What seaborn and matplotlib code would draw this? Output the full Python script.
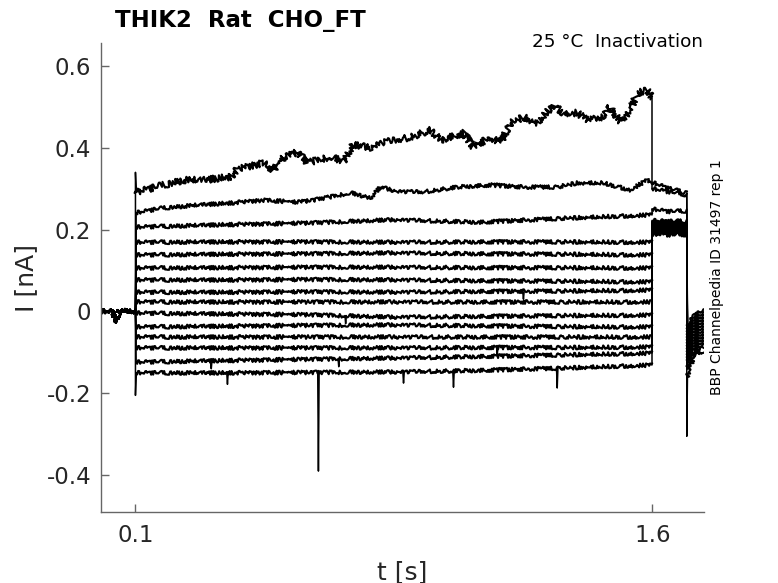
import numpy as np
import pandas as pd
import matplotlib
matplotlib.use("Agg")
import matplotlib.pyplot as plt
import seaborn as sns

# holding segment before the step (shared by all sweeps)
t_hold = [0.0, 0.035, 0.040, 0.043, 0.047, 0.052, 0.1]
i_hold = [0.0, 0.0, -0.020, -0.027, -0.025, 0.003, 0.0]

# sweep 1 (largest, slowly rising)
t_top = [0.102, 0.106, 0.181, 0.239, 0.297, 0.376, 0.396, 0.471, 0.500, 0.529, 0.570,
         0.599, 0.628, 0.666, 0.703, 0.732, 0.782, 0.820, 0.860, 0.898, 0.956,
         0.985, 1.052, 1.081, 1.130, 1.159, 1.188, 1.226, 1.266, 1.313, 1.342,
         1.382, 1.411, 1.458, 1.478, 1.507, 1.536, 1.556, 1.585, 1.600]
i_top = [0.296, 0.292, 0.309, 0.321, 0.321, 0.329, 0.348, 0.363, 0.346, 0.375, 0.390,
         0.363, 0.370, 0.378, 0.366, 0.407, 0.400, 0.414, 0.419, 0.426, 0.443,
         0.419, 0.436, 0.402, 0.426, 0.412, 0.460, 0.475, 0.460, 0.505, 0.485,
         0.485, 0.468, 0.475, 0.500, 0.463, 0.492, 0.534, 0.541, 0.521]

# sweep 2
t_second = [0.102, 0.181, 0.280, 0.376, 0.471, 0.570, 0.616, 0.666, 0.724, 0.782,
            0.811, 0.860, 0.936, 1.034, 1.130, 1.226, 1.324, 1.382, 1.458, 1.536,
            1.585, 1.600]
i_second = [0.241, 0.253, 0.260, 0.265, 0.272, 0.267, 0.272, 0.280, 0.290, 0.277,
            0.304, 0.293, 0.292, 0.304, 0.309, 0.304, 0.304, 0.314, 0.314, 0.297,
            0.321, 0.314]

# sweeps 3-15, nearly flat during the step
t_flat = [0.102, 0.35, 0.6, 0.85, 1.1, 1.35, 1.6]
flat_levels = [
    [0.206, 0.212, 0.216, 0.224, 0.218, 0.228, 0.236],
    [0.169, 0.170, 0.170, 0.169, 0.170, 0.170, 0.169],
    [0.138, 0.140, 0.141, 0.143, 0.141, 0.140, 0.138],
    [0.106, 0.107, 0.108, 0.108, 0.107, 0.107, 0.106],
    [0.077, 0.077, 0.078, 0.077, 0.075, 0.074, 0.072],
    [0.047, 0.047, 0.048, 0.047, 0.049, 0.050, 0.052],
    [0.023, 0.023, 0.023, 0.023, 0.023, 0.023, 0.023],
    [-0.004, -0.006, -0.008, -0.014, -0.012, -0.010, -0.009],
    [-0.038, -0.036, -0.034, -0.033, -0.035, -0.037, -0.038],
    [-0.063, -0.063, -0.063, -0.063, -0.063, -0.063, -0.063],
    [-0.089, -0.089, -0.089, -0.089, -0.088, -0.088, -0.087],
    [-0.124, -0.120, -0.117, -0.114, -0.110, -0.106, -0.102],
    [-0.150, -0.150, -0.149, -0.148, -0.144, -0.138, -0.131],
]

# short downward events: (sweep, t, level around, peak)
events = [
    (15, 0.631, -0.149, -0.390),
    (15, 0.367, -0.150, -0.178),
    (15, 0.878, -0.148, -0.175),
    (15, 1.023, -0.146, -0.185),
    (15, 1.324, -0.139, -0.187),
    (14, 0.320, -0.121, -0.140),
    (14, 0.690, -0.115, -0.135),
    (13, 1.150, -0.088, -0.105),
    (10, 0.710, -0.010, -0.030),
    (8, 1.226, 0.048, 0.030),
]

# capacitive peaks at the step edges
onset_peak = {1: 0.340, 15: -0.205}
offset_peak = {15: -0.305}

# second segment 1.6 - 1.7 s
t_tail = [1.6, 1.65, 1.70]
tail_levels = [
    [0.315, 0.300, 0.290],
    [0.300, 0.292, 0.285],
    [0.250, 0.244, 0.246],
    [0.222, 0.220, 0.221],
    [0.219, 0.217, 0.218],
    [0.216, 0.214, 0.215],
    [0.213, 0.211, 0.212],
    [0.210, 0.208, 0.209],
    [0.207, 0.205, 0.206],
    [0.204, 0.202, 0.203],
    [0.201, 0.199, 0.200],
    [0.198, 0.196, 0.197],
    [0.195, 0.193, 0.194],
    [0.192, 0.190, 0.191],
    [0.189, 0.187, 0.188],
]

# last segment 1.7 - 1.75 s
t_end = [1.702, 1.72, 1.75]
end_levels = [
    [-0.040, -0.010, 0.003],
    [-0.048, -0.018, -0.004],
    [-0.055, -0.025, -0.011],
    [-0.062, -0.032, -0.018],
    [-0.069, -0.039, -0.025],
    [-0.076, -0.046, -0.032],
    [-0.083, -0.053, -0.039],
    [-0.090, -0.060, -0.046],
    [-0.097, -0.067, -0.053],
    [-0.104, -0.074, -0.060],
    [-0.111, -0.081, -0.067],
    [-0.118, -0.088, -0.074],
    [-0.125, -0.095, -0.081],
    [-0.140, -0.102, -0.088],
    [-0.160, -0.110, -0.095],
]

xticks = [0.1, 1.6]
xtick_labels = ["0.1", "1.6"]
yticks = [-0.4, -0.2, 0, 0.2, 0.4, 0.6]
ytick_labels = ["-0.4", "-0.2", "0", "0.2", "0.4", "0.6"]

# noisy stretches ("trace") and sharp jumps/events ("jump") are kept apart
rows = []
seg_id = 0


def add(points, kind, sweep):
    global seg_id
    seg_id += 1
    for t, i in points:
        rows.append({"t": t, "I": i, "sweep": sweep, "seg": seg_id, "kind": kind})


n_sweeps = len(tail_levels)
for k in range(1, n_sweeps + 1):
    if k == 1:
        step = list(zip(t_top, i_top))
    elif k == 2:
        step = list(zip(t_second, i_second))
    else:
        step = list(zip(t_flat, flat_levels[k - 3]))
    hold = list(zip(t_hold, i_hold))
    tail = list(zip(t_tail, tail_levels[k - 1]))
    end = list(zip(t_end, end_levels[k - 1]))

    add(hold, "trace", k)
    add(step, "trace", k)
    add(tail, "trace", k)
    add(end, "trace", k)

    on = [hold[-1]]
    if k in onset_peak:
        on.append((0.1, onset_peak[k]))
    on.append(step[0])
    add(on, "jump", k)
    add([step[-1], tail[0]], "jump", k)
    off = [tail[-1]]
    if k in offset_peak:
        off.append((1.70, offset_peak[k]))
    off.append(end[0])
    add(off, "jump", k)
    for sw, te, base, peak in events:
        if sw == k:
            add([(te - 0.002, base), (te, peak), (te + 0.002, base)], "jump", k)

df = pd.DataFrame(rows)

sns.set_style("ticks")
plt.rcParams["font.family"] = ["DejaVu Sans"]

fig = plt.figure(figsize=(7.78, 5.83), dpi=100)
ax = fig.add_axes([101 / 778, 1 - 512 / 583, 603 / 778, 469 / 583])

sns.lineplot(data=df[df["kind"] == "trace"], x="t", y="I", units="seg",
             estimator=None, sort=False, color="black", linewidth=1.5,
             legend=False, ax=ax)
# noisy look of the recordings
for line in ax.lines:
    y = np.asarray(line.get_ydata())
    if y.size and y.max() > 0.45:
        line.set_sketch_params(scale=3.4, length=1.0, randomness=3)
    else:
        line.set_sketch_params(scale=1.9, length=1.0, randomness=3)

sns.lineplot(data=df[df["kind"] == "jump"], x="t", y="I", units="seg",
             estimator=None, sort=False, color="black", linewidth=1.1,
             legend=False, ax=ax)

ax.set_xlim(0, 1.75)
ax.set_ylim(-0.49, 0.656)
ax.set_xticks(xticks)
ax.set_xticklabels(xtick_labels)
ax.set_yticks(yticks)
ax.set_yticklabels(ytick_labels)
ax.tick_params(direction="in", length=6, width=1, color="#666666",
               labelcolor="#262626", labelsize=16.5)
ax.tick_params(axis="x", pad=9)
ax.tick_params(axis="y", pad=7)
sns.despine(ax=ax)
for s in ["left", "bottom"]:
    ax.spines[s].set_color("#666666")
    ax.spines[s].set_linewidth(1)

ax.set_xlabel("t [s]", fontsize=18, color="#262626", labelpad=9)
ax.set_ylabel("I [nA]", fontsize=18, color="#262626", labelpad=6)

fig.text(115 / 778, 1 - 27 / 583, "THIK2  Rat  CHO_FT", fontsize=16.5,
         fontweight="bold", color="black", ha="left", va="baseline")
fig.text(703 / 778, 1 - 47 / 583, "25 °C  Inactivation", fontsize=13.2,
         color="black", ha="right", va="baseline")
fig.text(717 / 778, 1 - 277 / 583, "BBP Channelpedia ID 31497 rep 1",
         rotation=90, fontsize=10, color="black", ha="center", va="center")

fig.savefig("out.png", dpi=100)
